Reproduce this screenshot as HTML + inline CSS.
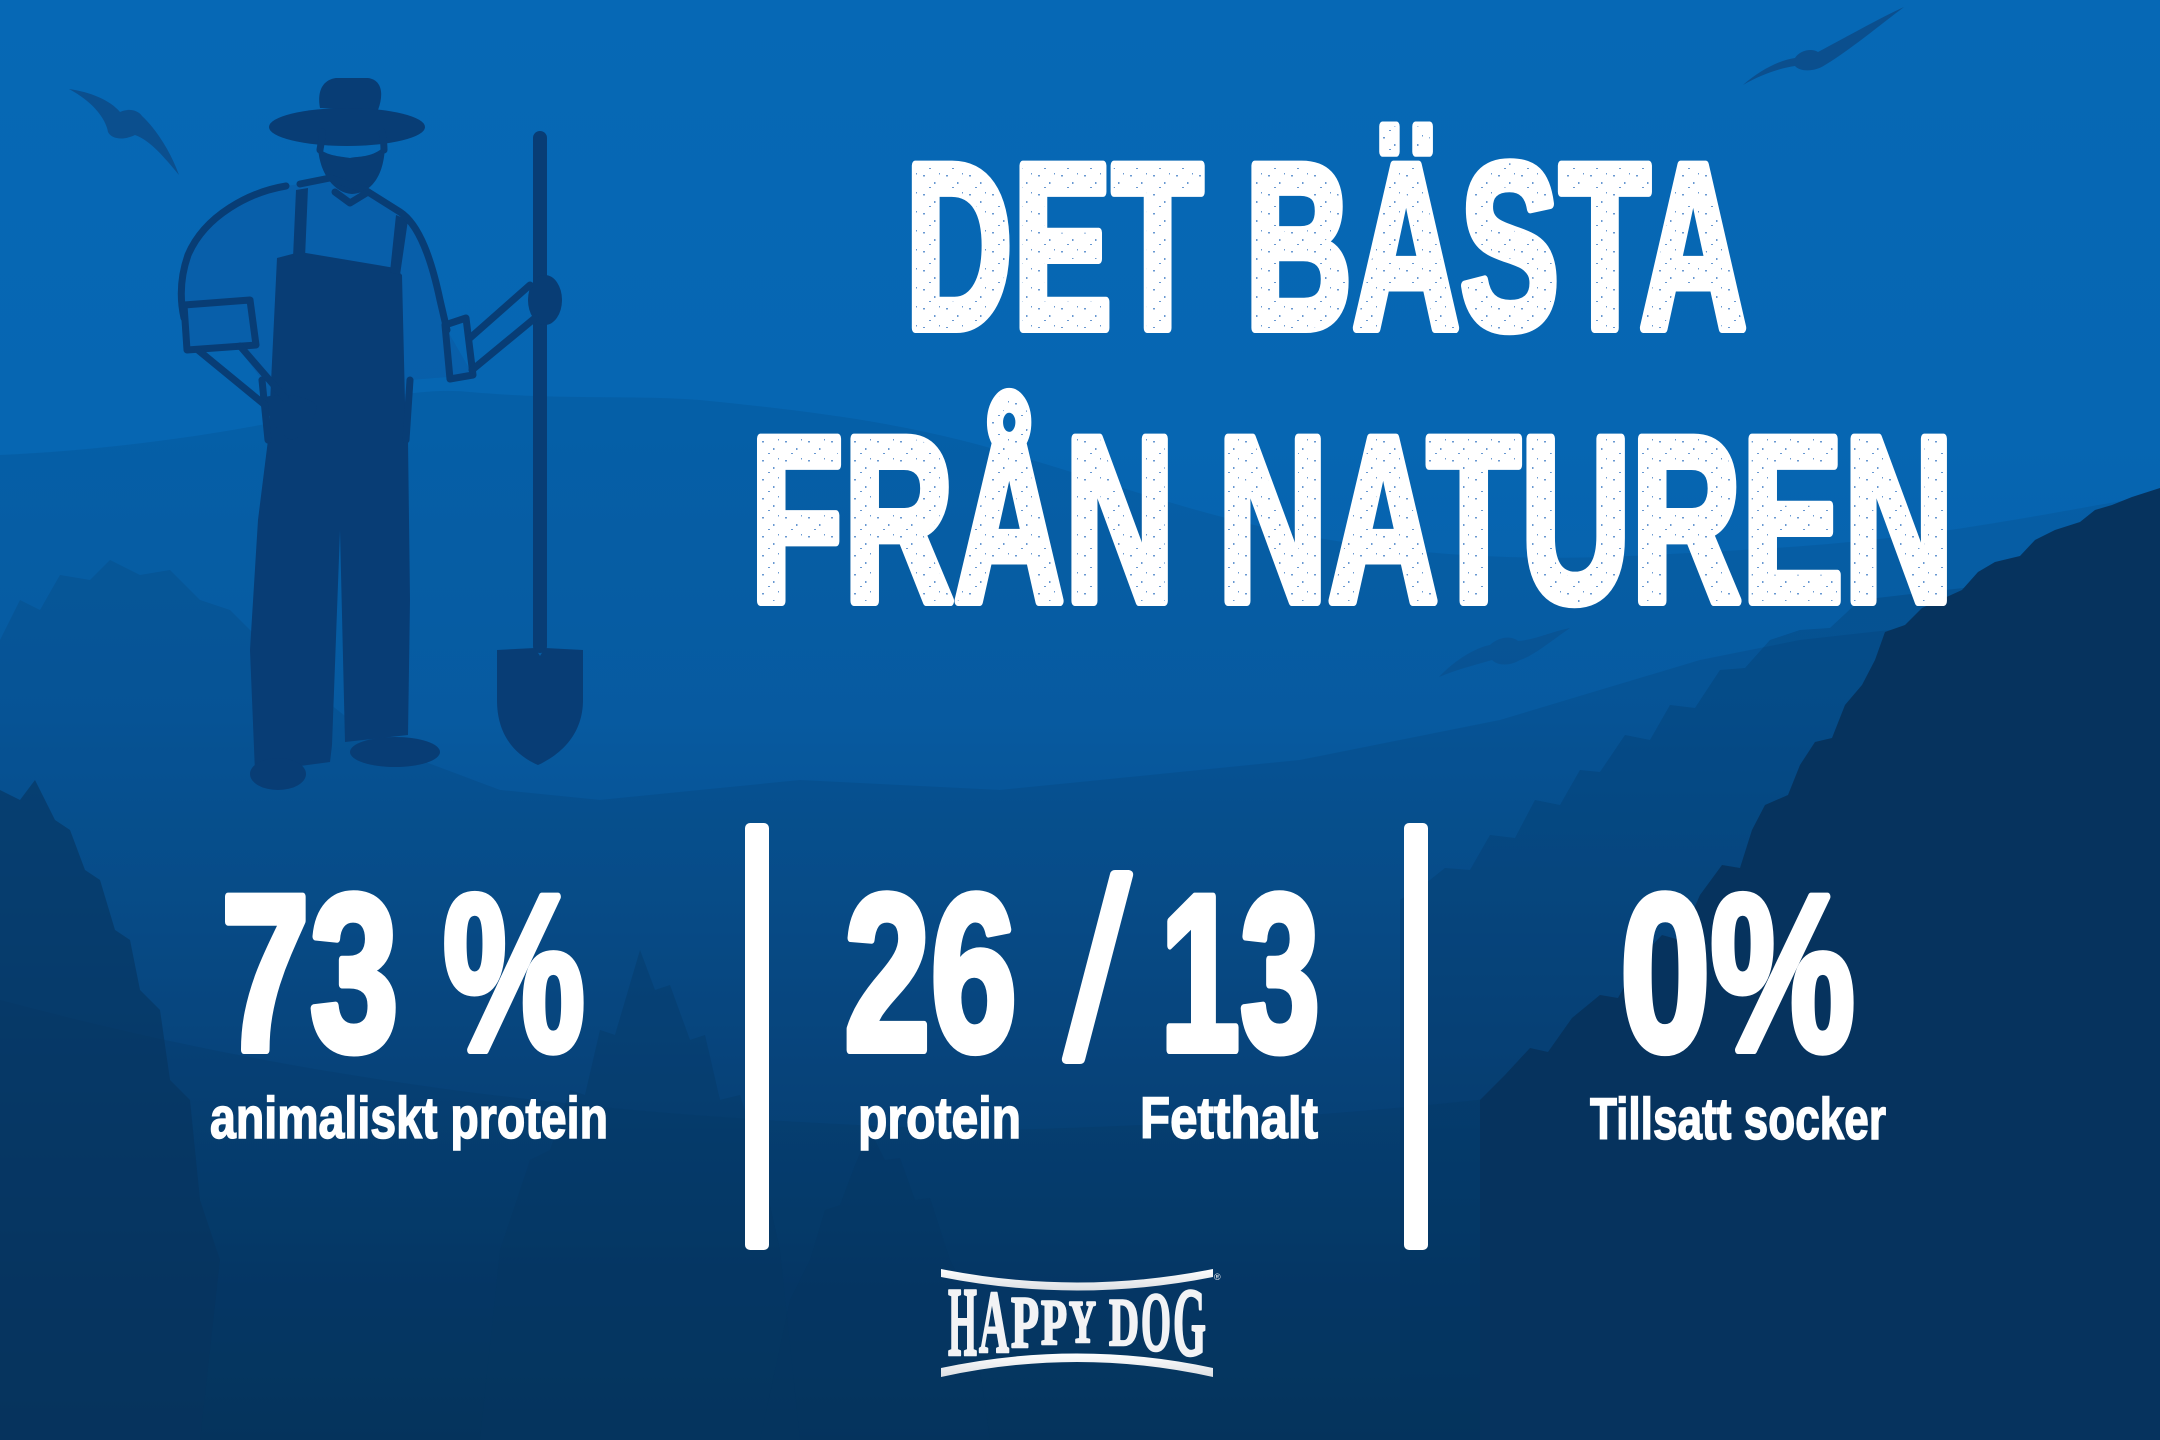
<!DOCTYPE html>
<html>
<head>
<meta charset="utf-8">
<style>
html,body{margin:0;padding:0;background:#07365f;}
svg{display:block;}
</style>
</head>
<body>
<svg width="2160" height="1440" viewBox="0 0 2160 1440" xmlns="http://www.w3.org/2000/svg">
<defs>
<linearGradient id="bg" x1="0" y1="0" x2="0" y2="1">
<stop offset="0" stop-color="#0668b5"/>
<stop offset="0.3" stop-color="#0666b2"/>
<stop offset="0.5" stop-color="#0860aa"/>
<stop offset="0.62" stop-color="#0a5698"/>
<stop offset="0.75" stop-color="#0a4a85"/>
<stop offset="0.88" stop-color="#083d6e"/>
<stop offset="1" stop-color="#07365f"/>
</linearGradient>
<linearGradient id="logo" x1="0" y1="0" x2="0" y2="1">
<stop offset="0" stop-color="#ffffff"/>
<stop offset="1" stop-color="#dcdfe3"/>
</linearGradient>
<pattern id="speck" width="23" height="19" patternUnits="userSpaceOnUse">
<rect x="3" y="4" width="2" height="1.5" fill="#2a6fbf"/>
<rect x="14" y="11" width="1.5" height="2" fill="#2a6fbf"/>
<rect x="9" y="16" width="2" height="1" fill="#2a6fbf"/>
<rect x="19" y="2" width="1" height="1.5" fill="#2a6fbf"/>
</pattern>
</defs>

<rect x="0" y="0" width="2160" height="1440" fill="url(#bg)"/>

<!-- far ridge -->
<path d="M0,455 C120,450 250,430 330,410 C390,395 430,388 470,392 C560,400 640,395 700,400 C800,410 880,420 960,440 C1080,470 1200,520 1330,540 C1450,560 1560,560 1650,555 C1750,550 1850,545 1950,530 C2050,515 2120,500 2160,495 L2160,1440 L0,1440 Z" fill="#04315c" opacity="0.12"/>

<!-- mid layer with left trees -->
<path d="M0,640 L20,600 L40,610 L60,575 L90,580 L110,560 L140,575 L170,570 L200,600 L230,610 L260,640 L300,680 L350,720 L420,760 L500,790 L600,800 L700,790 L800,780 L900,785 L1000,790 L1100,780 L1200,770 L1300,760 L1400,740 L1500,720 L1600,690 L1700,660 L1800,640 L2160,600 L2160,1440 L0,1440 Z" fill="#04315c" opacity="0.16"/>

<!-- lower darkening -->
<path d="M0,1000 C300,1080 600,1120 1000,1130 C1400,1120 1700,1080 2160,1000 L2160,1440 L0,1440 Z" fill="#04305a" opacity="0.18"/>

<!-- right medium trees -->
<path d="M1400,900 L1430,880 L1445,868 L1470,870 L1490,835 L1515,838 L1535,800 L1560,805 L1580,770 L1600,772 L1625,735 L1650,740 L1670,705 L1695,708 L1720,670 L1745,668 L1770,640 L1800,630 L1830,628 L1860,600 L2160,565 L2160,1440 L1400,1440 Z" fill="#05335f" opacity="0.25"/>

<!-- right dark trees -->
<path d="M1480,1100 L1505,1075 L1530,1048 L1548,1052 L1572,1018 L1600,995 L1618,998 L1640,958 L1662,935 L1680,940 L1700,895 L1722,865 L1740,868 L1752,830 L1765,805 L1788,795 L1800,765 L1815,742 L1832,738 L1845,705 L1862,685 L1875,660 L1885,632 L1905,625 L1922,608 L1940,600 L1962,590 L1978,572 L1995,562 L2020,556 L2035,540 L2055,530 L2080,522 L2095,510 L2112,505 L2132,497 L2160,488 L2160,1440 L1480,1440 Z" fill="#06335e"/>

<!-- left dark trees -->
<path d="M0,790 L20,800 L35,780 L55,820 L70,830 L85,870 L100,880 L115,930 L130,940 L140,990 L160,1010 L170,1080 L190,1100 L200,1200 L220,1260 L200,1440 L0,1440 Z" fill="#06335e" opacity="0.6"/>

<!-- mid trees -->
<path d="M640,950 L655,990 L670,985 L690,1040 L705,1035 L720,1100 L740,1095 L760,1160 L780,1250 L800,1440 L480,1440 L500,1250 L530,1160 L550,1150 L570,1090 L585,1095 L600,1030 L615,1035 Z" fill="#063660" opacity="0.35"/>
<path d="M870,1130 L885,1160 L900,1158 L915,1200 L930,1198 L950,1260 L970,1300 L990,1440 L760,1440 L790,1300 L810,1260 L825,1210 L840,1205 L855,1165 Z" fill="#063660" opacity="0.3"/>

<!-- birds -->
<path d="M69,89 C90,92 110,100 120,112 C128,108 138,110 142,116 C155,128 170,150 179,175 C165,158 150,140 135,135 C125,140 112,140 108,132 C106,120 95,103 69,89 Z" fill="#0b4f8e"/>
<path d="M1743,85 C1760,70 1780,60 1795,58 C1800,50 1812,48 1818,52 C1850,35 1880,18 1904,7 C1880,25 1850,50 1825,65 C1815,72 1800,72 1795,66 C1780,68 1760,75 1743,85 Z" fill="#0b4f8e"/>
<path d="M1439,677 C1455,660 1475,648 1490,645 C1500,636 1512,636 1518,641 C1535,640 1550,632 1570,628 C1552,640 1535,655 1520,660 C1510,666 1498,666 1492,660 C1475,665 1455,670 1439,677 Z" fill="#0a4f8c" opacity="0.6"/>

<!-- farmer shirt fill -->
<path d="M300,184 L330,178 L365,190 L400,212 C420,225 432,262 440,300 L447,330 L473,375 L410,380 L406,440 L268,440 L262,380 L240,350 L187,350 L184,318 C180,300 180,278 188,255 C205,215 250,192 286,186 Z" fill="#0a5aa3" opacity="0.6"/>

<!-- farmer -->
<g fill="#083d75" stroke="none">
  <rect x="533" y="131" width="14" height="522" rx="7"/>
  <path d="M497,650 L535,648 L540,656 L545,648 L583,650 L583,700 C583,735 560,755 538,765 C515,755 497,735 497,700 Z"/>
  <path d="M320,108 C317,92 322,80 336,78 L368,78 C382,80 384,94 378,110 Z"/>
  <ellipse cx="347" cy="127" rx="78" ry="19"/>
  <path d="M318,148 C320,175 335,193 352,194 C372,193 384,175 385,146 C372,158 360,156 350,158 C338,156 328,156 318,148 Z"/>
  <path d="M277,258 L300,252 L395,268 L402,275 L406,445 L268,445 Z"/>
  <path d="M296,190 L308,188 L305,258 L293,258 Z"/>
  <path d="M396,215 L408,220 L400,275 L390,272 Z"/>
  <path d="M268,440 L408,440 L410,600 L408,735 L345,742 L340,530 L332,745 L330,762 L255,772 L250,650 L258,520 Z"/>
  <ellipse cx="278" cy="774" rx="28" ry="16"/>
  <ellipse cx="395" cy="752" rx="45" ry="15"/>
  <path d="M262,398 C280,392 305,395 317,405 C315,420 305,438 290,440 C278,432 268,418 262,398 Z"/>
  <ellipse cx="545" cy="300" rx="17" ry="25"/>
</g>
<g fill="none" stroke="#083d75" stroke-width="7" stroke-linejoin="round" stroke-linecap="round">
  <path d="M300,184 L330,178 L365,190 L400,212 C420,225 432,262 440,300 L447,330"/>
  <path d="M286,186 C250,192 205,215 188,255 C180,278 180,300 184,318"/>
  <path d="M410,380 L406,440"/>
  <path d="M262,380 L268,440"/>
  <path d="M184,305 L250,300 L256,345 L187,350 Z"/>
  <path d="M445,325 L466,318 L473,375 L450,379 Z"/>
  <path d="M198,350 L265,405"/>
  <path d="M240,346 L285,398"/>
  <path d="M470,338 L530,285"/>
  <path d="M472,370 L535,318"/>
  <path d="M322,132 C322,142 320,148 320,150"/>
  <path d="M382,132 C384,142 384,148 384,150"/>
  <path d="M335,192 L350,203 L368,192"/>
</g>

<!-- title -->
<g font-family="'Liberation Sans', Arial, sans-serif" font-weight="bold" fill="#ffffff" stroke="#ffffff" stroke-linejoin="round">
  <text x="905" y="328" font-size="236" stroke-width="10" textLength="842" lengthAdjust="spacingAndGlyphs">DET BÄSTA</text>
  <text x="750" y="601" font-size="236" stroke-width="10" textLength="1204" lengthAdjust="spacingAndGlyphs">FRÅN NATUREN</text>

  <text x="221" y="1050" font-size="223" stroke-width="8" textLength="364" lengthAdjust="spacingAndGlyphs">73 %</text>
  <text x="844" y="1050" font-size="223" stroke-width="8" textLength="173" lengthAdjust="spacingAndGlyphs">26</text>
  <text x="1160" y="1050" font-size="223" stroke-width="8" textLength="160" lengthAdjust="spacingAndGlyphs">13</text>
  <text x="1620" y="1050" font-size="223" stroke-width="8" textLength="235" lengthAdjust="spacingAndGlyphs">0%</text>
</g>
<!-- speckle texture on title -->
<g font-family="'Liberation Sans', Arial, sans-serif" font-weight="bold" fill="url(#speck)" opacity="0.7">
  <text x="905" y="328" font-size="236" textLength="842" lengthAdjust="spacingAndGlyphs">DET BÄSTA</text>
  <text x="750" y="601" font-size="236" textLength="1204" lengthAdjust="spacingAndGlyphs">FRÅN NATUREN</text>
</g>
<!-- slash -->
<path d="M1110,874 Q1111,870 1115,870 L1129,870 Q1134,871 1133,876 L1085,1060 Q1084,1064 1080,1064 L1066,1064 Q1061,1063 1062,1058 Z" fill="#ffffff"/>

<!-- bars -->
<rect x="745" y="823" width="24" height="427" rx="5" fill="#ffffff"/>
<rect x="1404" y="823" width="24" height="427" rx="5" fill="#ffffff"/>

<!-- labels -->
<g font-family="'Liberation Sans', Arial, sans-serif" font-weight="bold" fill="#ffffff" stroke="#ffffff" stroke-width="1.5" font-size="58">
  <text x="210" y="1138" textLength="398" lengthAdjust="spacingAndGlyphs">animaliskt protein</text>
  <text x="858" y="1138" textLength="163" lengthAdjust="spacingAndGlyphs">protein</text>
  <text x="1140" y="1138" textLength="178" lengthAdjust="spacingAndGlyphs">Fetthalt</text>
  <text x="1590" y="1139" textLength="296" lengthAdjust="spacingAndGlyphs">Tillsatt socker</text>
</g>

<!-- logo -->
<g fill="url(#logo)">
  <path d="M941,1269 Q1077,1296 1213,1269 L1213,1277 Q1077,1304 941,1277 Z"/>
  <path d="M941,1368 Q1077,1339 1213,1368 L1213,1377 Q1077,1347 941,1377 Z"/>
</g>
<g font-family="'Liberation Serif', 'Times New Roman', serif" font-weight="bold" fill="#f2f3f5" stroke="#f2f3f5" stroke-width="2.5" stroke-linejoin="round">
  <text x="948" y="1355" font-size="99" textLength="29" lengthAdjust="spacingAndGlyphs">H</text>
  <text x="979" y="1352" font-size="89" textLength="30" lengthAdjust="spacingAndGlyphs">A</text>
  <text x="1011" y="1347" font-size="74" textLength="28" lengthAdjust="spacingAndGlyphs">P</text>
  <text x="1041" y="1344" font-size="65" textLength="26" lengthAdjust="spacingAndGlyphs">P</text>
  <text x="1069" y="1342" font-size="60" textLength="27" lengthAdjust="spacingAndGlyphs">Y</text>
  <text x="1109" y="1345" font-size="68" textLength="30" lengthAdjust="spacingAndGlyphs">D</text>
  <text x="1141" y="1350" font-size="84" textLength="30" lengthAdjust="spacingAndGlyphs">O</text>
  <text x="1173" y="1355" font-size="98" textLength="33" lengthAdjust="spacingAndGlyphs">G</text>
</g>
<text x="1214" y="1280" font-size="9" font-family="'Liberation Sans', sans-serif" fill="#f2f3f5">®</text>
</svg>
</body>
</html>
